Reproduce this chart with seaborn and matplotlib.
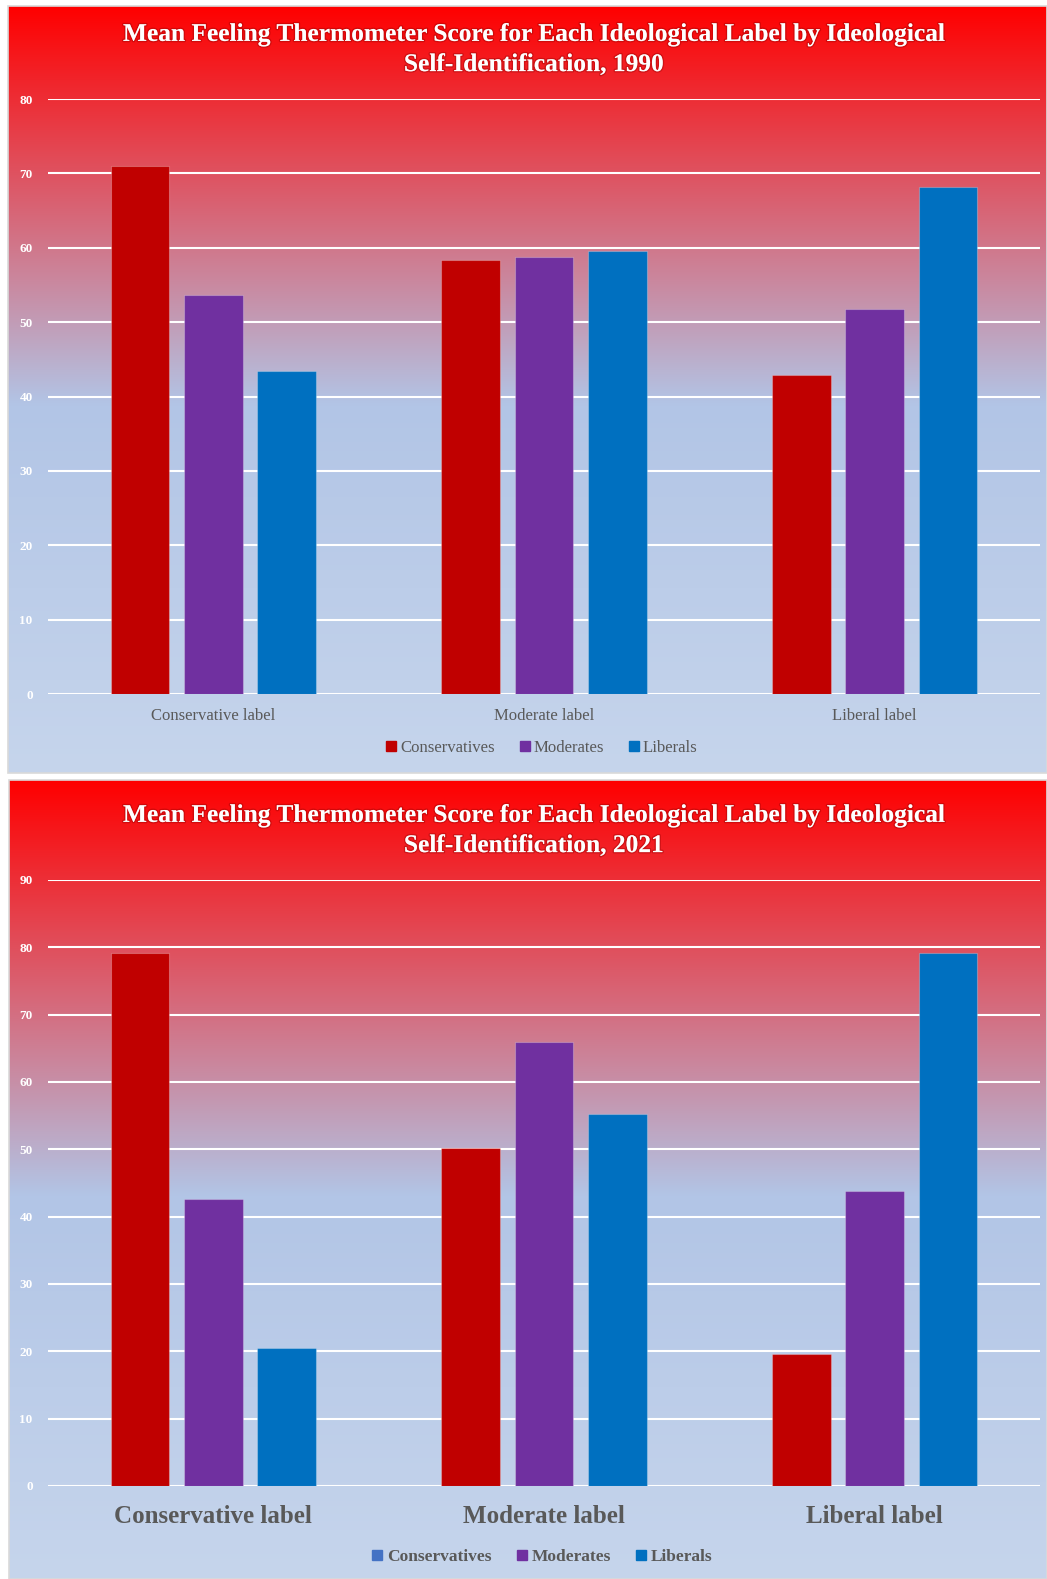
import numpy as np
import pandas as pd
import matplotlib
matplotlib.use("Agg")
import matplotlib.pyplot as plt
import matplotlib.patheffects as pe
from matplotlib.lines import Line2D
import seaborn as sns

# ---- data -------------------------------------------------------------
labels = ["Conservative label", "Moderate label", "Liberal label"]
groups = ["Conservatives", "Moderates", "Liberals"]

conservatives_1990 = [71.0, 58.3, 42.9]
moderates_1990 = [53.6, 58.7, 51.7]
liberals_1990 = [43.4, 59.5, 68.2]

conservatives_2021 = [79.1, 50.2, 19.6]
moderates_2021 = [42.6, 65.9, 43.8]
liberals_2021 = [20.5, 55.3, 79.1]

yticks_1990 = [0, 10, 20, 30, 40, 50, 60, 70, 80]
yticks_2021 = [0, 10, 20, 30, 40, 50, 60, 70, 80, 90]

bar_colors = ["#C00000", "#7030A0", "#0070C0"]
legend_colors_1990 = ["#C00000", "#7030A0", "#0070C0"]
legend_colors_2021 = ["#4472C4", "#7030A0", "#0070C0"]


def long_frame(cons, mods, libs):
    rows = []
    for g, vals in zip(groups, [cons, mods, libs]):
        for lab, v in zip(labels, vals):
            rows.append({"label": lab, "group": g, "score": v})
    return pd.DataFrame(rows)


df_1990 = long_frame(conservatives_1990, moderates_1990, liberals_1990)
df_2021 = long_frame(conservatives_2021, moderates_2021, liberals_2021)

# ---- figure -----------------------------------------------------------
sns.set_theme(style="white")
plt.rcParams["font.family"] = ["Liberation Serif", "DejaVu Serif"]

W, H = 1047, 1579
fig = plt.figure(figsize=(W / 100, H / 100), dpi=100)
fig.patch.set_facecolor("white")

# vertical gradient: red at the top fading to pale blue
stops = np.array([0.0, 0.52, 1.0])
stop_cols = np.array([[255, 0, 0], [178, 197, 230], [198, 213, 236]]) / 255.0


def gradient_panel(x0, y0, x1, y1):
    """Paint a gradient box given pixel coords (top-left origin)."""
    ax = fig.add_axes([x0 / W, 1 - y1 / H, (x1 - x0) / W, (y1 - y0) / H], zorder=-5)
    t = np.linspace(0, 1, 400)
    img = np.stack([np.interp(t, stops, stop_cols[:, c]) for c in range(3)], axis=-1)
    img = np.repeat(img[:, None, :], 2, axis=1)
    ax.imshow(img, aspect="auto", extent=[0, 1, 0, 1], interpolation="bilinear")
    ax.set_axis_off()
    # thin grey frame around the panel
    fr = plt.Rectangle((x0 / W, 1 - y1 / H), (x1 - x0) / W, (y1 - y0) / H,
                       transform=fig.transFigure, fill=False,
                       edgecolor="#D9D9D9", linewidth=1.2, zorder=-4)
    fig.patches.append(fr)


gradient_panel(8, 6, 1047, 773)
gradient_panel(9, 780, 1047, 1579)


def panel(df, rect, ymax, yticks, leg_colors, xtick_size, xtick_weight, xpad,
          leg_y, leg_size, leg_weight):
    l, b, w, h = rect
    ax = fig.add_axes([l / W, 1 - b / H, w / W, h / H])
    ax.set_facecolor("none")
    sns.barplot(data=df, x="label", y="score", hue="group", hue_order=groups,
                order=labels, palette=bar_colors, width=0.666, gap=0.2,
                saturation=1, edgecolor=None, linewidth=0, ax=ax,
                legend=False, zorder=3)
    for p in ax.patches:
        p.set_edgecolor((1, 1, 1, 0.25))
        p.set_linewidth(0.8)
    ax.set_ylim(0, ymax)
    ax.set_xlim(-0.5, 2.5)
    ax.set_yticks(yticks)
    ax.yaxis.grid(True, color=(1, 1, 1, 0.55), linewidth=1.5, zorder=0)
    ax.set_axisbelow(True)
    for s in ax.spines.values():
        s.set_visible(False)
    ax.set_xlabel("")
    ax.set_ylabel("")
    ax.tick_params(axis="y", length=0, pad=11, labelsize=9.5, labelcolor="white")
    ax.tick_params(axis="x", length=0, pad=xpad, labelsize=xtick_size, labelcolor="#595959")
    for t in ax.get_yticklabels():
        t.set_fontweight("bold")
    for t in ax.get_xticklabels():
        t.set_fontweight(xtick_weight)
    handles = [Line2D([], [], marker="s", linestyle="none", markersize=6.5,
                      markerfacecolor=c, markeredgecolor=c) for c in leg_colors]
    fig.legend(handles, groups, loc="center", bbox_to_anchor=(0.512, 1 - leg_y / H),
               ncol=3, frameon=False, handletextpad=-0.45, columnspacing=0.75,
               prop={"size": leg_size, "weight": leg_weight}, labelcolor="#595959")
    return ax


# 1990 panel
panel(df_1990, (48, 694, 992, 595), 80, yticks_1990, legend_colors_1990,
      12, "normal", 10, 748, 12.1, "normal")
# 2021 panel
panel(df_2021, (48, 1486, 992, 606), 90, yticks_2021, legend_colors_2021,
      18, "bold", 14, 1557, 12.5, "bold")

titles = [
    ("Mean Feeling Thermometer Score for Each Ideological Label by Ideological\n"
     "Self-Identification, 1990", 49.5),
    ("Mean Feeling Thermometer Score for Each Ideological Label by Ideological\n"
     "Self-Identification, 2021", 830.5),
]
for txt, yc in titles:
    fig.text(0.5097, 1 - yc / H, txt, ha="center", va="center", color="white",
             fontsize=18.3, fontweight="bold", linespacing=1.4,
             path_effects=[pe.withStroke(linewidth=2, foreground=(0.55, 0, 0, 0.35))])

fig.savefig("out.png", dpi=100, facecolor="white")
